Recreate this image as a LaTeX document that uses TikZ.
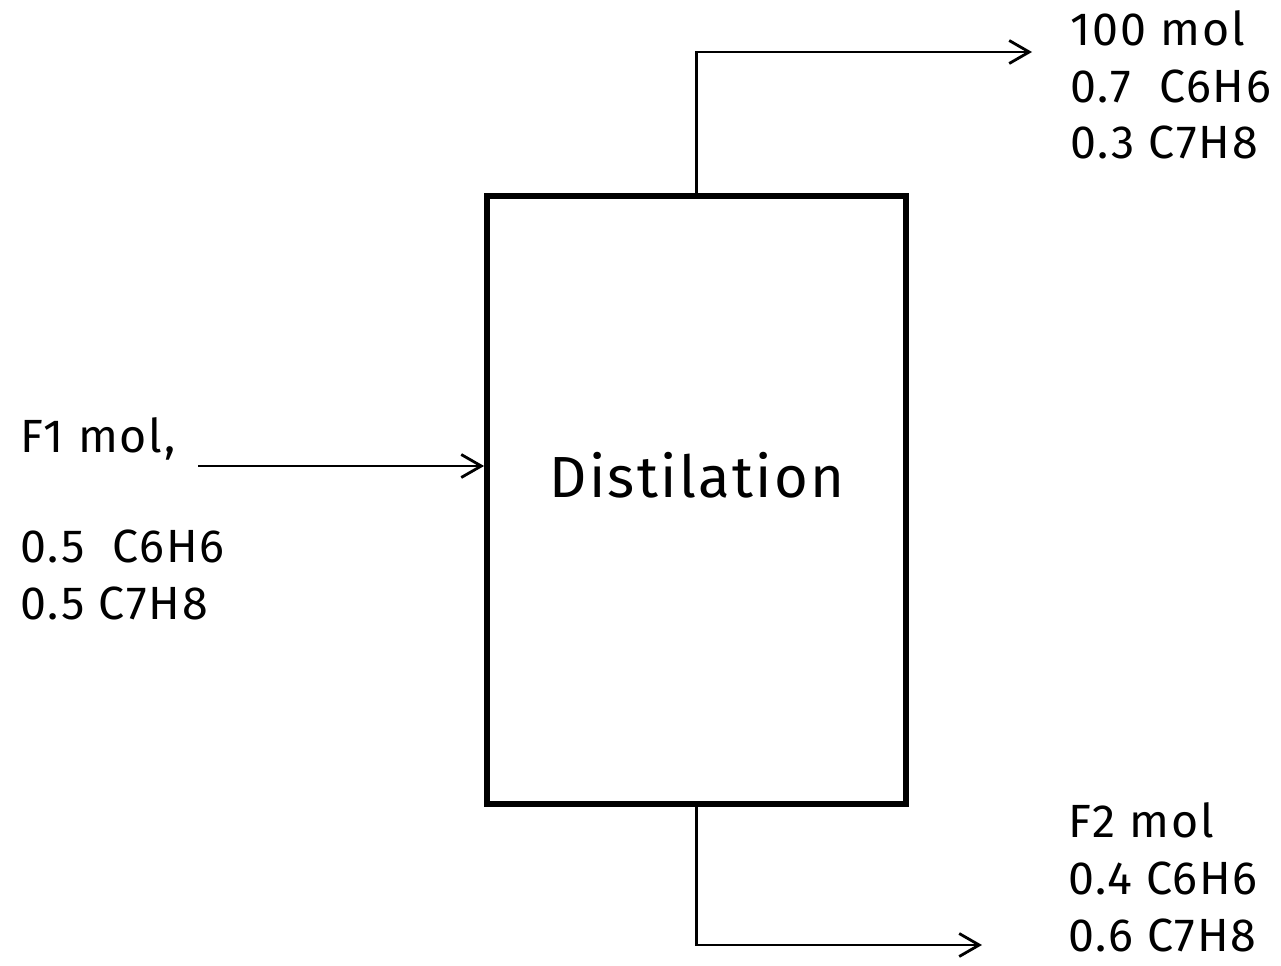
\documentclass[tikz,border=0pt]{standalone}
\usepackage{fontspec}
\setmainfont{Fira Sans}[LetterSpace=4]
\usetikzlibrary{positioning,arrows.meta}

\begin{document}
\begin{tikzpicture}[x=0.02cm,y=-0.02cm,
    flow/.style={-{Straight Barb[length=0.4cm,width=0.46cm,line width=1.6pt]},line width=1.6pt},
    stream/.style={inner sep=0pt,align=left,anchor=base west,
          font=\fontsize{26.5}{32.3}\selectfont}]
    \useasboundingbox (0,0) rectangle (1281,966);
    % distillation column
    \node[draw,line width=3.4pt,minimum width=8.38cm,minimum height=12.16cm,
          inner sep=0pt] (column) at (696.5,500) {};
    \node[font=\fontsize{33}{39}\selectfont] (unit) at (697,475) {Distilation};
    % feed, top and bottom streams
    \coordinate (feedin) at (198,466);
    \coordinate (topout) at (1032,52);
    \coordinate (botout) at (982,945);
    \draw[flow] (feedin) -- (column.west |- feedin);
    \draw[flow] (column.north) |- (topout);
    \draw[flow] (column.south) |- (botout);
    \node[stream] (feed) at (20,619) {F1 mol,\\[30pt]0.5\ \ C6H6\\0.5 C7H8};
    \node[stream] (top) at (1070,159) {100 mol\\0.7\ \ C6H6\\0.3 C7H8};
    \node[stream] (bottom) at (1068,951) {F2 mol\\0.4 C6H6\\0.6 C7H8};
\end{tikzpicture}
\end{document}
